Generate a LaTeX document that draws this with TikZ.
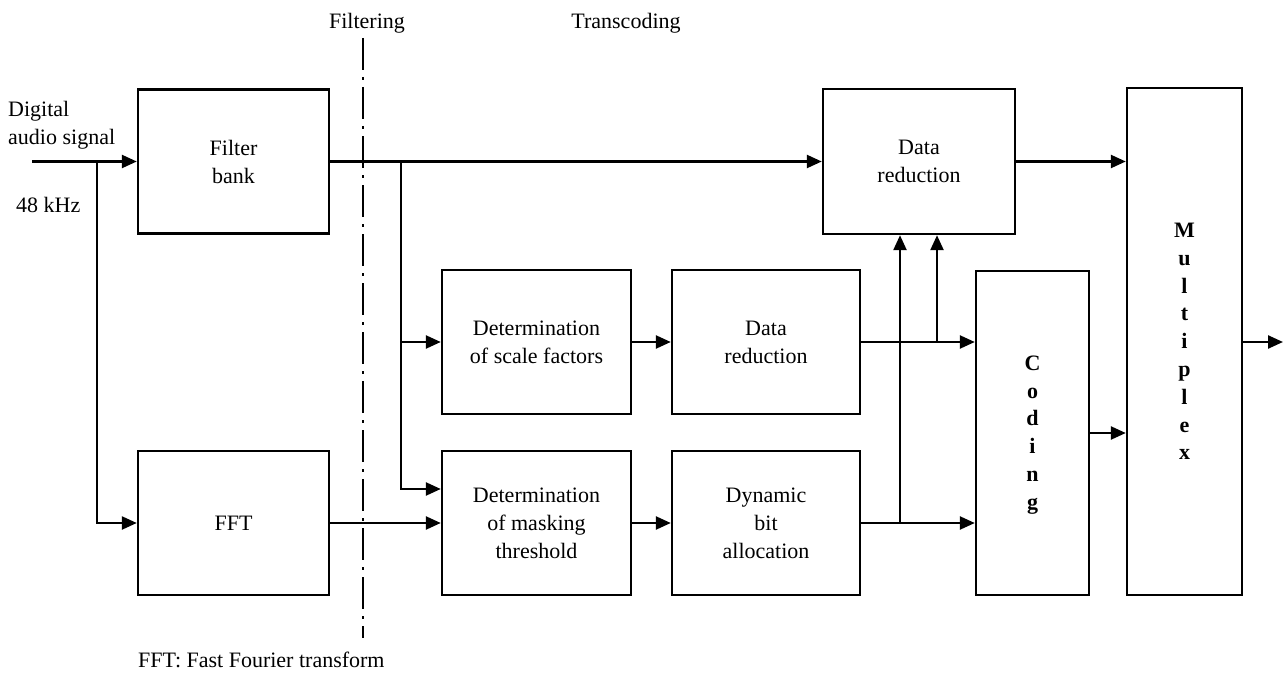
\documentclass[tikz,border=0pt]{standalone}
\usepackage{fontspec}
\setmainfont{Liberation Serif}
\usetikzlibrary{arrows.meta,calc}
\begin{document}
\begin{tikzpicture}[x=1pt,y=-1pt,
  font=\fontsize{22}{28}\selectfont,
  blk/.style={draw, line width=2.4pt, align=center, inner sep=0pt},
  conn/.style={line width=2.4pt},
  arr/.style={conn, -{Triangle[length=15pt,width=13pt]}},
  lbl/.style={inner sep=0pt},
  vtext/.style={lbl, align=center, font=\fontsize{22}{27.8}\selectfont\bfseries},
  sep/.style={line width=2.2pt, dash pattern=on 32pt off 7pt on 3pt off 7pt}]
\useasboundingbox (0,0) rectangle (1284,690);

% blocks
\node[blk, minimum width=191pt, minimum height=144pt] (fb) at (233.5,161.5) {Filter\\bank};
\node[blk, minimum width=191pt, minimum height=144pt] (fft) at (233.5,523) {FFT};
\node[blk, minimum width=189pt, minimum height=144pt] (scale) at (536.5,342) {Determination\\of scale factors};
\node[blk, minimum width=188pt, minimum height=144pt] (dr1) at (766,342) {Data\\reduction};
\node[blk, minimum width=189pt, minimum height=144pt] (mask) at (536.5,523) {Determination\\of masking\\threshold};
\node[blk, minimum width=188pt, minimum height=144pt] (dyn) at (766,523) {Dynamic\\bit\\allocation};
\node[blk, minimum width=192pt, minimum height=145pt] (dr2) at (919,161.5) {Data\\reduction};
\node[blk, minimum width=113pt, minimum height=324pt] (cod) at (1032.5,433) {};
\node[blk, minimum width=115pt, minimum height=507pt] (mux) at (1184.5,341.5) {};
\node[vtext] (codt) at ($(cod.center)+(0,2)$) {C\\o\\d\\i\\n\\g};
\node[vtext] (muxt) at (mux.center) {M\\u\\l\\t\\i\\p\\l\\e\\x};

% labels
\node[lbl] (filt) at (367,23) {Filtering};
\node[lbl] (trans) at (626,23) {Transcoding};
\node[lbl, anchor=base west] (dig) at (8,117) {Digital};
\node[lbl, anchor=base west] (aud) at (8,144) {audio signal};
\node[lbl, anchor=base west] (khz) at (16,212) {48 kHz};
\node[lbl, anchor=base west] (foot) at (138,667) {FFT: Fast Fourier transform};

% separator
\coordinate (s1) at (363,38);
\coordinate (s2) at (363,638);
\draw[sep] (s1) -- (s2);

% connectors
\coordinate (in) at (32,161.5);
\coordinate (b1) at (97,161.5);
\coordinate (b2) at (401,161.5);
\coordinate (out) at (1283,342);
\draw[arr] (in) -- (fb.west);
\draw[arr] (b1) |- (fft.west);
\draw[arr] (fb.east) -- (dr2.west);
\draw[arr] (b2) |- (scale.west);
\draw[arr] (b2) |- ($(mask.west)+(0,-34)$);
\draw[arr] (fft.east) -- (mask.west);
\draw[arr] (scale.east) -- (dr1.west);
\draw[arr] (mask.east) -- (dyn.west);
\draw[arr] (dr1.east) -- (dr1.east -| cod.west);
\draw[arr] (dyn.east) -- (dyn.east -| cod.west);
\coordinate (j1) at (900,523);
\coordinate (j2) at (937,342);
\draw[arr] (j1) -- (j1 |- dr2.south);
\draw[arr] (j2) -- (j2 |- dr2.south);
\draw[arr] (dr2.east) -- (dr2.east -| mux.west);
\draw[arr] (cod.east) -- (cod.east -| mux.west);
\draw[arr] (mux.east |- out) -- (out);
\end{tikzpicture}
\end{document}
